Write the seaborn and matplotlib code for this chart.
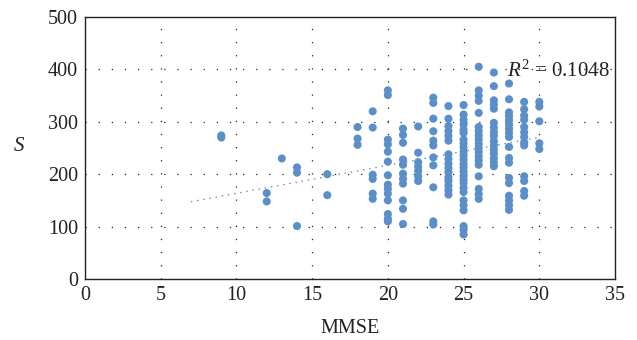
import numpy as np
import pandas as pd
import matplotlib
matplotlib.use("Agg")
import matplotlib.pyplot as plt
import seaborn as sns

# S values for every MMSE score
mmse_levels = [9, 12, 13, 14, 16, 18, 19, 20, 21, 22, 23, 24, 25, 26, 27, 28, 29, 30]
s_by_level = [
    [270, 274],
    [164, 148],
    [230],
    [213, 203, 101],
    [200, 160],
    [290, 268, 256],
    [320, 289, 199, 191, 163, 153],
    [360, 351, 266, 257, 243, 224, 198, 180, 172, 163, 150, 124, 115, 110],
    [287, 275, 260, 228, 218, 201, 191, 182, 150, 134, 105],
    [291, 241, 223, 214, 206, 196, 187],
    [346, 336, 306, 282, 264, 255, 232, 217, 175, 110, 104],
    [330, 306, 292, 282, 273, 264, 238, 229, 220, 212, 204, 194, 187, 178, 169, 161],
    [332, 314, 304, 295, 285, 279, 266, 259, 251, 243, 236, 228, 220, 213, 205,
     197, 190, 183, 174, 166, 150, 141, 131, 101, 94, 85],
    [405, 360, 350, 340, 317, 290, 282, 274, 266, 258, 250, 242, 234, 226, 218,
     196, 172, 162, 153],
    [394, 368, 341, 333, 325, 298, 289, 280, 273, 263, 255, 247, 239, 230, 222, 215],
    [373, 343, 318, 311, 303, 295, 287, 279, 271, 252, 231, 222, 193, 183, 159,
     150, 141, 132],
    [338, 324, 312, 304, 290, 280, 271, 261, 255, 196, 187, 168, 159],
    [338, 329, 301, 259, 248],
]

# linear trend line shown in the chart
trend_x = [7, 30]
trend_slope = 5.35
trend_intercept = 110
r2_text = "0.1048"

mmse = []
s_vals = []
for lvl, vals in zip(mmse_levels, s_by_level):
    mmse += [lvl] * len(vals)
    s_vals += vals
df = pd.DataFrame({"MMSE": mmse, "S": s_vals})

sns.set_style("white")
plt.rcParams["font.family"] = ["Liberation Serif", "DejaVu Serif"]
plt.rcParams["mathtext.fontset"] = "custom"
plt.rcParams["mathtext.rm"] = "Liberation Serif"
plt.rcParams["mathtext.it"] = "Liberation Serif:italic"

blue = "#5b8fc9"
dark = "#222222"
fig = plt.figure(figsize=(6.37, 3.4), dpi=100)
ax = fig.add_axes([0.1334, 0.1794, 0.8321, 0.7706])

sns.scatterplot(data=df, x="MMSE", y="S", ax=ax, color=blue, s=34,
                edgecolor="none", linewidth=0, zorder=3)

tx = np.array(trend_x, dtype=float)
ax.plot(tx, trend_intercept + trend_slope * tx, color=blue, lw=1.0,
        linestyle=(0, (1, 3.5)), zorder=2)

ax.set_xlim(0, 35)
ax.set_ylim(0, 500)
ax.set_xticks(range(0, 36, 5))
ax.set_yticks(range(0, 501, 100))

for v in range(5, 35, 5):
    ax.axvline(v, color=dark, lw=0.9, linestyle=(0, (1, 9.5)), zorder=1)
for v in range(100, 500, 100):
    ax.axhline(v, color=dark, lw=0.9, linestyle=(0, (1, 9.5)), zorder=1)

for sp in ax.spines.values():
    sp.set_visible(True)
    sp.set_color(dark)
    sp.set_linewidth(1.0)

ax.tick_params(length=0, labelsize=14.5, pad=5, colors=dark)
ax.set_xlabel("MMSE", fontsize=14.5, labelpad=10, color=dark)
ax.set_ylabel("S", fontsize=15, style="italic", rotation=0, color=dark,
              va="center", ha="center")
ax.yaxis.set_label_coords(-0.125, 0.504)

ax.text(27.9, 385, r"$R^2$ = " + r2_text, fontsize=15, color=dark,
        va="baseline", ha="left")

fig.savefig("out.png", dpi=100)
